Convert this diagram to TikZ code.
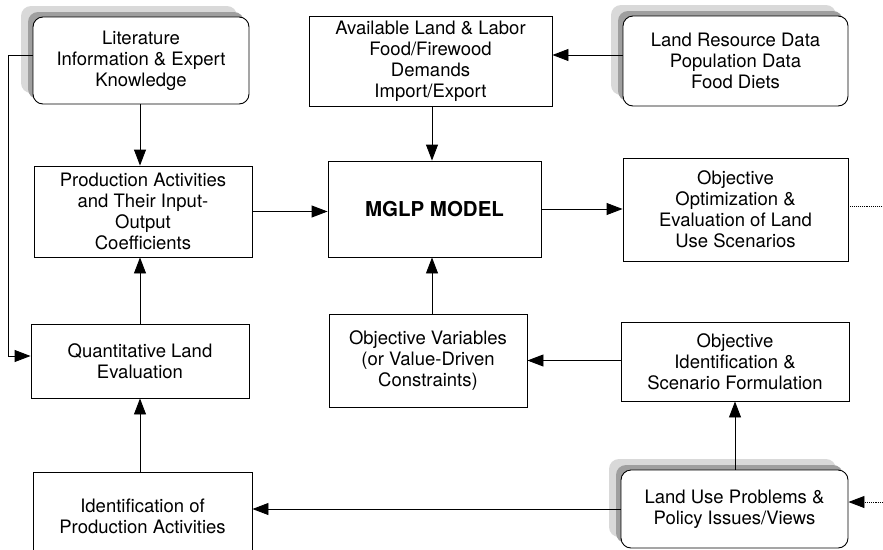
\documentclass[tikz,border=0pt]{standalone}
\usepackage{fontspec}
\setmainfont{TeX Gyre Heros}
\usetikzlibrary{arrows.meta,shadows}
\begin{document}
\begin{tikzpicture}[x=1pt,y=-1pt]
  \tikzstyle{boite}=[draw=black, line width=0.9pt, fill=white, align=center,
  font=\fontsize{18.5}{21}\selectfont, inner sep=0pt]
  \tikzstyle{ombre}=[boite, rounded corners=10pt,
  general shadow={fill=gray!30, shadow xshift=-12pt, shadow yshift=11pt},
  general shadow={fill=gray!75, shadow xshift=-5pt, shadow yshift=5pt}]
  \tikzstyle{fleche}=[-{Triangle[length=16pt,width=12pt]}, line width=0.9pt]
  \tikzstyle{pointille}=[densely dotted, line width=0.9pt]
  \useasboundingbox (0,0) rectangle (883,549);
  % rangee du haut
  \node[ombre, minimum width=216pt, minimum height=87pt] (lit) at (141,60.5)
  {Literature\\Information \& Expert\\Knowledge};
  \node[boite, minimum width=243pt, minimum height=90pt] (avail) at (430.5,61)
  {Available Land \& Labor\\Food/Firewood\\Demands\\Import/Export};
  \node[ombre, minimum width=225pt, minimum height=90pt] (res) at (735.5,61)
  {Land Resource Data\\Population Data\\Food Diets};
  % rangee du milieu
  \node[boite, minimum width=218pt, minimum height=91pt] (prod) at (143,211.5)
  {Production Activities\\and Their Input-\\Output\\Coefficients};
  \node[boite, minimum width=213pt, minimum height=96pt,
  font=\fontsize{20.5}{23}\selectfont\bfseries] (mglp) at (434.5,209)
  {MGLP MODEL};
  \node[boite, minimum width=225pt, minimum height=103pt] (opt) at (735.5,209.5)
  {Objective\\Optimization \&\\Evaluation of Land\\Use Scenarios};
  % rangee du bas
  \node[boite, minimum width=218pt, minimum height=74pt] (quant) at (140,361)
  {Quantitative Land\\Evaluation};
  \node[boite, minimum width=198pt, minimum height=93pt] (var) at (428,360.5)
  {Objective Variables\\(or Value-Driven\\Constraints)};
  \node[boite, minimum width=228pt, minimum height=79pt] (ident) at (735,361.5)
  {Objective\\Identification \&\\Scenario Formulation};
  \node[boite, minimum width=219pt, minimum height=88pt] (idprod) at (142.5,516)
  {Identification of\\Production Activities};
  \node[ombre, minimum width=227pt, minimum height=78pt] (land) at (734.5,509)
  {Land Use Problems \&\\Policy Issues/Views};
  % bouts libres
  \coordinate (coin) at (8,55);
  \coordinate (coinb) at (8,356);
  \coordinate (bordd) at (883,206);
  \coordinate (bordb) at (883,502);
  \coordinate (axe) at (432,0);
  % fleches
  \draw[fleche] (lit.south -| quant.north) -- (prod.north -| quant.north);
  \draw[fleche] (lit.west |- coin) -- (coin) -- (coinb) -- (coinb -| quant.west);
  \draw[fleche] (avail.south -| axe) -- (mglp.north -| axe);
  \draw[fleche] (res.west |- coin) -- (avail.east |- coin);
  \draw[fleche] (prod.east) -- (prod.east -| mglp.west);
  \draw[fleche] (mglp.east) -- (mglp.east -| opt.west);
  \draw[pointille] (opt.east |- bordd) -- (bordd);
  \draw[fleche] (quant.north) -- (prod.south -| quant.north);
  \draw[fleche] (var.north -| axe) -- (mglp.south -| axe);
  \draw[fleche] (ident.west |- var.east) -- (var.east);
  \draw[fleche] (land.north -| ident.south) -- (ident.south);
  \draw[fleche] (land.west) -- (land.west -| idprod.east);
  \draw[fleche] (idprod.north -| quant.south) -- (quant.south);
  \draw[fleche, pointille] (bordb) -- (bordb -| land.east);
\end{tikzpicture}
\end{document}
